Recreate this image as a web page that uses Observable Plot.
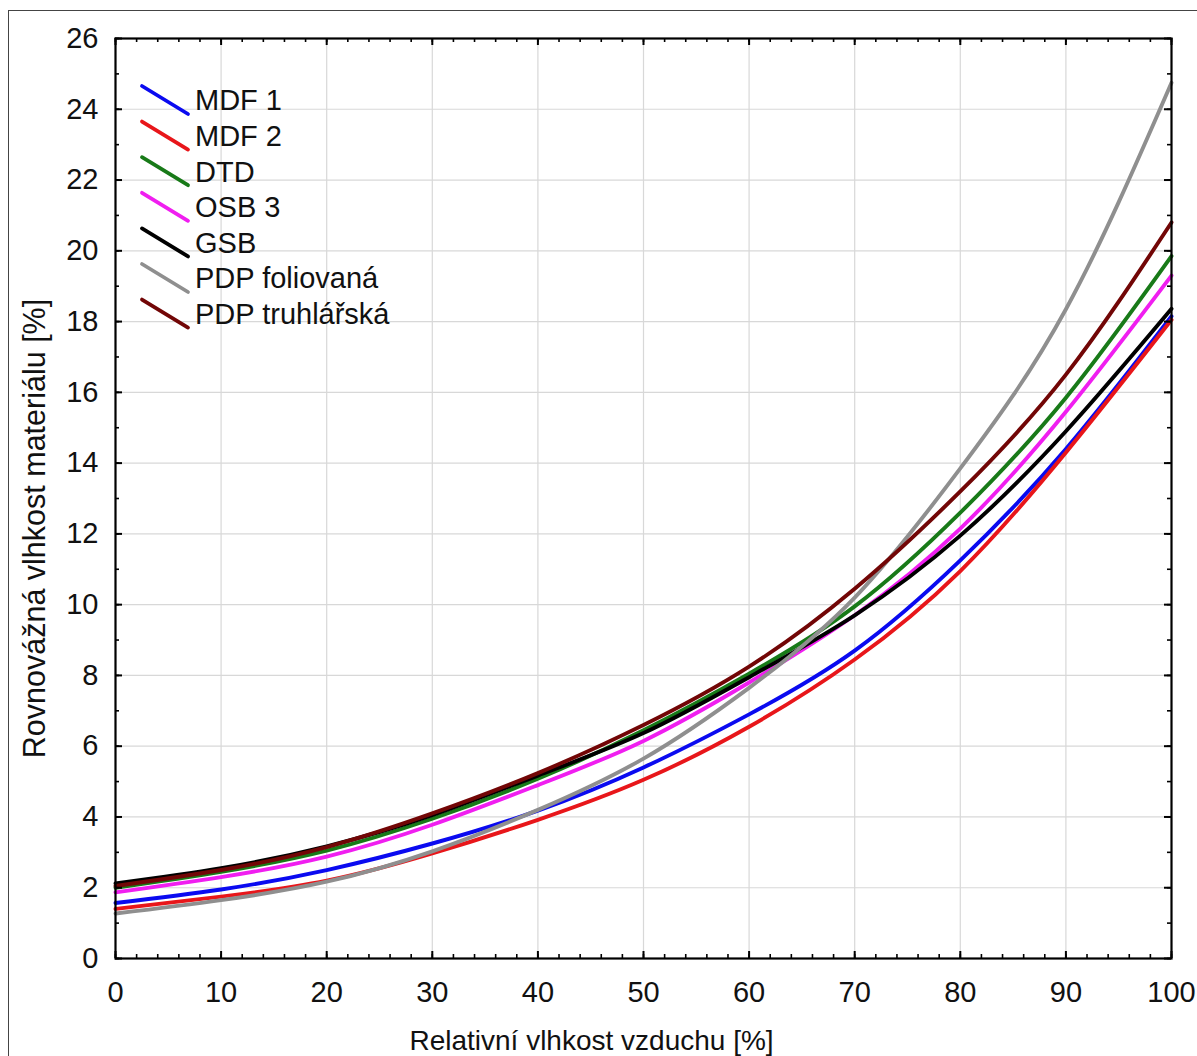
<!DOCTYPE html>
<html><head><meta charset="utf-8">
<script src="https://cdn.jsdelivr.net/npm/d3@7"></script>
<script src="https://cdn.jsdelivr.net/npm/@observablehq/plot@0.6"></script>
<style>
body{margin:0;background:#fff;}
#wrap{position:relative;width:1197px;height:1056px;overflow:hidden;background:#fff;}
#chart{position:absolute;left:0;top:0;}
#frame{position:absolute;left:8px;top:10px;width:1400px;height:1400px;border:1.5px solid #444;box-sizing:border-box;pointer-events:none;}
</style></head><body>
<div id="wrap"><div id="chart"></div><div id="frame"></div></div>
<script>
// ---- data ----
const rh = [0, 10, 20, 30, 40, 50, 60, 70, 80, 90, 100];
const mdf1   = [1.57, 1.95, 2.50, 3.25, 4.18, 5.40, 6.90, 8.70, 11.25, 14.40, 18.15];
const mdf2   = [1.40, 1.75, 2.20, 2.97, 3.92, 5.05, 6.55, 8.45, 10.95, 14.30, 18.05];
const dtd    = [2.00, 2.45, 3.05, 3.95, 5.08, 6.45, 8.05, 9.95, 12.60, 15.85, 19.85];
const osb3   = [1.87, 2.30, 2.88, 3.78, 4.90, 6.15, 7.80, 9.70, 12.15, 15.45, 19.30];
const gsb    = [2.12, 2.55, 3.17, 4.05, 5.17, 6.37, 7.95, 9.70, 11.95, 14.90, 18.36];
const pdpFol = [1.27, 1.65, 2.17, 3.03, 4.20, 5.65, 7.65, 10.20, 13.85, 18.35, 24.75];
const pdpTru = [2.05, 2.50, 3.15, 4.10, 5.24, 6.60, 8.25, 10.45, 13.20, 16.50, 20.80];
const seriesNames = ["MDF 1", "MDF 2", "DTD", "OSB 3", "GSB", "PDP foliovaná", "PDP truhlářská"];
const seriesValues = [mdf1, mdf2, dtd, osb3, gsb, pdpFol, pdpTru];
const seriesColors = ["#0a0af0", "#e8161a", "#187a18", "#f01ef0", "#000000", "#8f8f8f", "#720606"];
const xTicks = [0, 10, 20, 30, 40, 50, 60, 70, 80, 90, 100];
const yTicks = [0, 2, 4, 6, 8, 10, 12, 14, 16, 18, 20, 22, 24, 26];
const xMinorTicks = d3.range(0, 101, 2);
const yMinorTicks = d3.range(0, 27, 1);
const xLabel = "Relativní vlhkost vzduchu [%]";
const yLabel = "Rovnovážná vlhkost materiálu [%]";

// ---- table ----
const rows = [];
seriesNames.forEach((s, i) => rh.forEach((x, j) => rows.push({series: s, x, y: seriesValues[i][j]})));

const W = 1197, H = 1056, mL = 115, mR = 26, mT = 38, mB = 98;
const ph = H - mT - mB, pw = W - mL - mR;
const font = '"Liberation Sans", Arial, sans-serif';
const majorLen = 7, minorLen = 4;

const chart = Plot.plot({
  width: W, height: H,
  marginLeft: mL, marginRight: mR, marginTop: mT, marginBottom: mB,
  style: {fontFamily: font, background: "transparent", color: "#111"},
  x: {domain: [0, 100]},
  y: {domain: [0, 26]},
  color: {domain: seriesNames, range: seriesColors},
  marks: [
    Plot.ruleX(xTicks.filter(d => d > 0 && d < 100), {x: d => d, stroke: "#d8d8d8", strokeWidth: 1.2}),
    Plot.ruleY(yTicks.filter(d => d > 0 && d < 26), {y: d => d, stroke: "#d8d8d8", strokeWidth: 1.2}),
    Plot.line(rows, {x: "x", y: "y", z: "series", stroke: "series", strokeWidth: 3.9, curve: "natural"}),
    // inward ticks, bottom & top
    Plot.ruleX(xMinorTicks, {x: d => d, insetTop: ph - minorLen, stroke: "#000", strokeWidth: 1.6}),
    Plot.ruleX(xTicks, {x: d => d, insetTop: ph - majorLen, stroke: "#000", strokeWidth: 2}),
    Plot.ruleX(xMinorTicks, {x: d => d, insetBottom: ph - minorLen, stroke: "#000", strokeWidth: 1.6}),
    Plot.ruleX(xTicks, {x: d => d, insetBottom: ph - majorLen, stroke: "#000", strokeWidth: 2}),
    // inward ticks, left & right
    Plot.ruleY(yMinorTicks, {y: d => d, insetRight: pw - minorLen, stroke: "#000", strokeWidth: 1.6}),
    Plot.ruleY(yTicks, {y: d => d, insetRight: pw - majorLen, stroke: "#000", strokeWidth: 2}),
    Plot.ruleY(yMinorTicks, {y: d => d, insetLeft: pw - minorLen, stroke: "#000", strokeWidth: 1.6}),
    Plot.ruleY(yTicks, {y: d => d, insetLeft: pw - majorLen, stroke: "#000", strokeWidth: 2}),
    Plot.frame({stroke: "#000", strokeWidth: 2.2}),
    Plot.axisX({ticks: xTicks, tickSize: 0, tickPadding: 23, fontSize: 29, label: null, fill: "#111"}),
    Plot.axisY({ticks: yTicks, tickSize: 0, tickPadding: 17, fontSize: 29, label: null, fill: "#111"}),
    Plot.text([xLabel], {text: d => d, frameAnchor: "bottom", textAnchor: "middle", dy: 91, dx: -52, fontSize: 28, fill: "#111"}),
    Plot.text([yLabel], {text: d => d, frameAnchor: "left", textAnchor: "middle", dx: -80, dy: 30, rotate: -90, fontSize: 30.5, fill: "#111"})
  ]
});
document.getElementById("chart").appendChild(chart);

// ---- legend ----
const svg = d3.select(chart);
const lg = svg.append("g").attr("font-family", font).attr("font-size", 29).attr("text-anchor", "start");
seriesNames.forEach((name, i) => {
  const cy = 100 + i * 35.6;
  lg.append("line")
    .attr("x1", 142).attr("y1", cy - 14).attr("x2", 188).attr("y2", cy + 14)
    .attr("stroke", seriesColors[i]).attr("stroke-width", 3.8).attr("stroke-linecap", "round");
  lg.append("text").attr("x", 195).attr("y", cy).attr("dy", "0.36em")
    .attr("text-anchor", "start").attr("fill", "#111").text(name);
});
</script>
</body></html>
